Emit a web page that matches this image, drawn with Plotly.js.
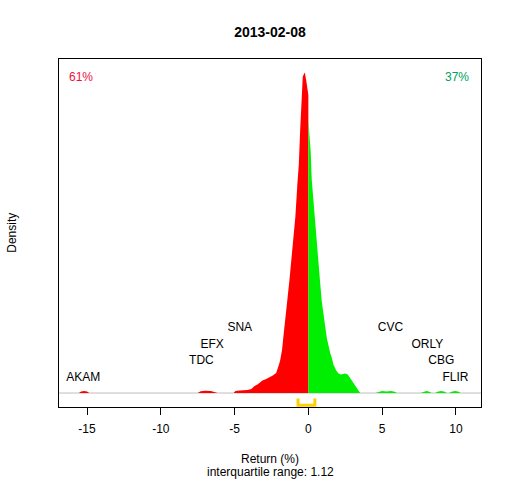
<!DOCTYPE html>
<html>
<head>
<meta charset="utf-8">
<script src="https://cdn.plot.ly/plotly-3.0.1.min.js"></script>
<style>html,body{margin:0;padding:0;background:#fff;}#chart{width:512px;height:480px;}</style>
</head>
<body>
<div id="chart"></div>
<script>
// Density of daily returns (%), negative side (red)
const retNeg = [-15.55,-15.4,-15.2,-15.0,-14.85,-7.5,-7.3,-7.0,-6.6,-6.3,-6.15,
  -5.07,-4.94,-4.67,-4.13,-3.86,-3.65,-3.45,-3.31,-3.11,-2.86,-2.64,-2.41,-2.18,-2.06,-1.99,-1.91,
  -1.78,-1.69,-1.55,-1.40,-1.28,-1.15,-1.01,-0.88,-0.74,-0.65,-0.56,-0.47,-0.38,-0.30,-0.24,-0.15,-0.06,0];
const densNeg = [0,0.0025,0.0035,0.0025,0,0,0.003,0.004,0.0035,0.002,0,
  0,0.0033,0.0042,0.005,0.0067,0.0117,0.0142,0.0167,0.0208,0.0233,0.0258,0.0292,0.0333,0.0408,0.0475,0.0547,
  0.0725,0.0947,0.1225,0.1613,0.1892,0.2258,0.2592,0.2947,0.3508,0.3808,0.4363,0.4825,0.528,0.5325,0.5353,0.5225,0.503,0.4975];
// positive side (green)
const retPos = [0,0.075,0.16,0.23,0.35,0.46,0.57,0.68,0.80,0.91,1.02,1.14,1.25,1.36,1.48,1.59,1.70,1.88,2.04,2.22,2.49,2.67,2.83,3.01,3.19,3.35,3.51,
  4.55,4.75,5.0,5.3,5.6,5.85,6.0,7.6,7.8,8.0,8.2,8.35,8.6,8.75,9.0,9.25,9.35,9.55,9.7,9.95,10.2,10.3];
const densPos = [0.4542,0.428,0.403,0.3558,0.3175,0.278,0.2475,0.217,0.1837,0.153,0.1363,0.1113,0.092,0.078,0.067,0.0587,0.0475,0.038,0.0325,0.0308,0.0325,0.0308,0.0253,0.017,0.0113,0.0058,0,
  0,0.002,0.0033,0.0025,0.0033,0.002,0,0,0.002,0.0033,0.002,0,0,0.002,0.0035,0.002,0,0,0.002,0.0035,0.002,0];
// Labelled extreme stocks
const stockNames = ['AKAM','TDC','EFX','SNA','CVC','ORLY','CBG','FLIR'];
const stockReturns = [-15.26,-7.25,-6.52,-4.65,5.56,8.06,9.01,9.97];
const labelLevels = [1,2,3,4,4,3,2,1];
// Summary
const iqrLow = -0.70, iqrHigh = 0.44;
const iqrText = '1.12';
const pctDown = '61%', pctUp = '37%';
const dateTitle = '2013-02-08';
const xTicks = [-15,-10,-5,0,5,10];

const dmax = Math.max(...densNeg, ...densPos);
const levelStep = dmax * 0.0514;
const font = 'Liberation Sans, Arial, sans-serif';

const traces = [
  {x: retNeg, y: densNeg, type: 'scatter', mode: 'lines', fill: 'tozeroy',
   fillcolor: '#FF0000', line: {color: 'rgba(0,0,0,0)', width: 0}, hoverinfo: 'skip'},
  {x: retPos, y: densPos, type: 'scatter', mode: 'lines', fill: 'tozeroy',
   fillcolor: '#00EE00', line: {color: 'rgba(0,0,0,0)', width: 0}, hoverinfo: 'skip'},
  {x: [iqrLow, iqrLow, iqrHigh, iqrHigh],
   y: [-dmax*0.017, -dmax*0.038, -dmax*0.038, -dmax*0.017],
   type: 'scatter', mode: 'lines', line: {color: '#FFD000', width: 3}, hoverinfo: 'skip'},
  {x: stockReturns, y: labelLevels.map(l => l*levelStep - dmax*0.004), text: stockNames,
   type: 'scatter', mode: 'text', textposition: 'middle center',
   textfont: {family: font, size: 12, color: '#000'}, hoverinfo: 'skip'}
];

const layout = {
  width: 512, height: 480,
  margin: {l: 59, r: 31, t: 59, b: 73},
  paper_bgcolor: '#fff', plot_bgcolor: '#fff',
  showlegend: false,
  font: {family: font, size: 12, color: '#000'},
  title: {text: '<b>' + dateTitle + '</b>', font: {family: font, size: 14, color: '#000'},
          x: 0.5, xref: 'paper', y: 1 - 32/480, yref: 'container', yanchor: 'middle'},
  xaxis: {range: [-16.90, 11.70], tickvals: xTicks, ticktext: xTicks.map(String),
          ticks: 'outside', ticklen: 7, tickcolor: '#000', tickwidth: 1, ticklabelstandoff: 4,
          showline: true, mirror: true, linecolor: '#000', linewidth: 1,
          showgrid: false, zeroline: false, tickfont: {family: font, size: 12, color: '#000'}},
  yaxis: {range: [-dmax*0.0436, dmax*1.0418], showticklabels: false, ticks: '',
          showline: true, mirror: true, linecolor: '#000', linewidth: 1,
          showgrid: false, zeroline: false},
  shapes: [{type: 'line', xref: 'paper', x0: 0, x1: 1, yref: 'y', y0: 0, y1: 0,
            line: {color: '#BEBEBE', width: 1}, layer: 'below'}],
  annotations: [
    {text: pctDown, xref: 'paper', yref: 'paper', x: 0.0199, y: 0.948, xanchor: 'left', yanchor: 'middle',
     showarrow: false, font: {family: font, size: 12, color: '#F0103C'}},
    {text: pctUp, xref: 'paper', yref: 'paper', x: 0.9768, y: 0.948, xanchor: 'right', yanchor: 'middle',
     showarrow: false, font: {family: font, size: 12, color: '#00A060'}},
    {text: 'Return (%)', xref: 'paper', yref: 'paper', x: 0.5, y: -0.149, xanchor: 'center', yanchor: 'middle',
     showarrow: false, font: {family: font, size: 12, color: '#000'}},
    {text: 'interquartile range: ' + iqrText, xref: 'paper', yref: 'paper', x: 0.5, y: -0.187, xanchor: 'center', yanchor: 'middle',
     showarrow: false, font: {family: font, size: 12, color: '#000'}},
    {text: 'Density', xref: 'paper', yref: 'paper', x: -0.112, y: 0.5, xanchor: 'center', yanchor: 'middle',
     textangle: -90, showarrow: false, font: {family: font, size: 12, color: '#000'}}
  ]
};

Plotly.newPlot('chart', traces, layout, {displayModeBar: false, staticPlot: true});
</script>
</body>
</html>
